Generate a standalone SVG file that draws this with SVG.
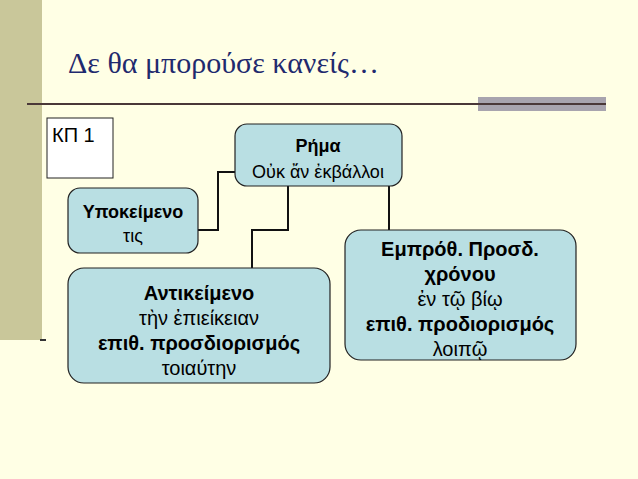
<svg xmlns="http://www.w3.org/2000/svg" width="638" height="479" viewBox="0 0 638 479">
<style>
.n{fill:#b9dfe3;stroke:#222;stroke-width:1.2}
text{font-family:"Liberation Sans",Arial,sans-serif;font-size:20px;fill:#000;text-anchor:middle}
.b{font-weight:bold}
.c{fill:none;stroke:#111;stroke-width:2}
</style>
<rect width="638" height="479" fill="#ffffe5"/>
<rect x="0" y="0" width="42" height="340" fill="#c9c79a"/>
<line x1="40" y1="340" x2="46" y2="340" stroke="#333" stroke-width="2"/>
<rect x="478" y="97" width="128" height="14" fill="#a8a4ae"/>
<line x1="27" y1="104" x2="606" y2="104" stroke="#4a3838" stroke-width="2"/>
<text x="68" y="73" style="font-family:'Liberation Serif',serif;font-size:30px;fill:#1f2a6e;text-anchor:start">Δε θα μπορούσε κανείς…</text>
<g id="connectors">
<polyline class="c" points="235,172 218,172 218,230 198,230"/>
<polyline class="c" points="288,186 288,230 252,230 252,268"/>
<polyline class="c" points="389,186 389,230"/>
</g>
<g id="kp"><rect x="47" y="118" width="66" height="60" fill="#fff" stroke="#222"/><text x="52" y="142" style="text-anchor:start;font-size:20px">КП 1</text></g>
<g id="rima"><rect class="n" x="235" y="124" width="167" height="62" rx="12"/><text class="b" x="318" y="152" style="font-size:18px">Ρήμα</text><text x="318" y="178" style="font-size:18px">Οὐκ ἄν ἐκβάλλοι</text></g>
<g id="ypok"><rect class="n" x="68" y="188" width="130" height="65" rx="12"/><text class="b" x="133" y="218" style="font-size:18px">Υποκείμενο</text><text x="133" y="242" style="font-size:18px">τις</text></g>
<g id="antik"><rect class="n" x="68" y="268" width="262" height="115" rx="16"/><text class="b" x="199" y="300">Αντικείμενο</text><text x="199" y="325">τὴν ἐπιείκειαν</text><text class="b" x="199" y="350">επιθ. προσδιορισμός</text><text x="199" y="375">τοιαύτην</text></g>
<g id="empr"><rect class="n" x="345" y="230" width="231" height="130" rx="16"/><text class="b" x="460" y="256">Εμπρόθ. Προσδ.</text><text class="b" x="460" y="281">χρόνου</text><text x="460" y="306">ἐν τῷ βίῳ</text><text class="b" x="460" y="331">επιθ. προδιορισμός</text><text x="460" y="356">λοιπῷ</text></g>
</svg>
